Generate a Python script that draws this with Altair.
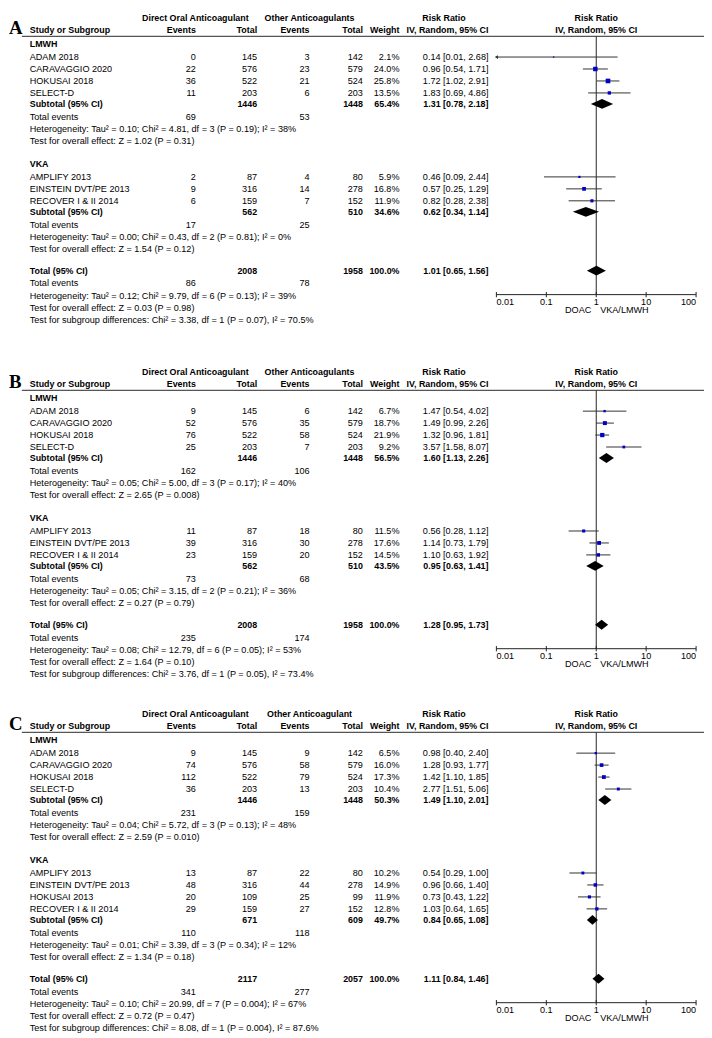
import altair as alt
import pandas as pd

# ---------------- Panel A ----------------
A_group = ["LMWH", "LMWH", "LMWH", "LMWH", "VKA", "VKA", "VKA"]
A_study = ["ADAM 2018", "CARAVAGGIO 2020", "HOKUSAI 2018", "SELECT-D",
           "AMPLIFY 2013", "EINSTEIN DVT/PE 2013", "RECOVER I & II 2014"]
A_doac_events = [0, 22, 36, 11, 2, 9, 6]
A_doac_total = [145, 576, 522, 203, 87, 316, 159]
A_other_events = [3, 23, 21, 6, 4, 14, 7]
A_other_total = [142, 579, 524, 203, 80, 278, 152]
A_weight = [2.1, 24.0, 25.8, 13.5, 5.9, 16.8, 11.9]
A_rr = [0.14, 0.96, 1.72, 1.83, 0.46, 0.57, 0.82]
A_lo = [0.01, 0.54, 1.02, 0.69, 0.09, 0.25, 0.28]
A_hi = [2.68, 1.71, 2.91, 4.86, 2.44, 1.29, 2.38]
A_sub_doac_events = [69, 17, 86]
A_sub_doac_total = [1446, 562, 2008]
A_sub_other_events = [53, 25, 78]
A_sub_other_total = [1448, 510, 1958]
A_sub_weight = [65.4, 34.6, 100.0]
A_sub_rr = [1.31, 0.62, 1.01]
A_sub_lo = [0.78, 0.34, 0.65]
A_sub_hi = [2.18, 1.14, 1.56]
A_sub_het = ["Tau² = 0.10; Chi² = 4.81, df = 3 (P = 0.19); I² = 38%",
             "Tau² = 0.00; Chi² = 0.43, df = 2 (P = 0.81); I² = 0%",
             "Tau² = 0.12; Chi² = 9.79, df = 6 (P = 0.13); I² = 39%"]
A_sub_z = ["Z = 1.02 (P = 0.31)", "Z = 1.54 (P = 0.12)", "Z = 0.03 (P = 0.98)"]
A_subgroup_diff = "Chi² = 3.38, df = 1 (P = 0.07), I² = 70.5%"
A_other_label = "Other Anticoagulants"

# ---------------- Panel B ----------------
B_group = ["LMWH", "LMWH", "LMWH", "LMWH", "VKA", "VKA", "VKA"]
B_study = ["ADAM 2018", "CARAVAGGIO 2020", "HOKUSAI 2018", "SELECT-D",
           "AMPLIFY 2013", "EINSTEIN DVT/PE 2013", "RECOVER I & II 2014"]
B_doac_events = [9, 52, 76, 25, 11, 39, 23]
B_doac_total = [145, 576, 522, 203, 87, 316, 159]
B_other_events = [6, 35, 58, 7, 18, 30, 20]
B_other_total = [142, 579, 524, 203, 80, 278, 152]
B_weight = [6.7, 18.7, 21.9, 9.2, 11.5, 17.6, 14.5]
B_rr = [1.47, 1.49, 1.32, 3.57, 0.56, 1.14, 1.10]
B_lo = [0.54, 0.99, 0.96, 1.58, 0.28, 0.73, 0.63]
B_hi = [4.02, 2.26, 1.81, 8.07, 1.12, 1.79, 1.92]
B_sub_doac_events = [162, 73, 235]
B_sub_doac_total = [1446, 562, 2008]
B_sub_other_events = [106, 68, 174]
B_sub_other_total = [1448, 510, 1958]
B_sub_weight = [56.5, 43.5, 100.0]
B_sub_rr = [1.60, 0.95, 1.28]
B_sub_lo = [1.13, 0.63, 0.95]
B_sub_hi = [2.26, 1.41, 1.73]
B_sub_het = ["Tau² = 0.05; Chi² = 5.00, df = 3 (P = 0.17); I² = 40%",
             "Tau² = 0.05; Chi² = 3.15, df = 2 (P = 0.21); I² = 36%",
             "Tau² = 0.08; Chi² = 12.79, df = 6 (P = 0.05); I² = 53%"]
B_sub_z = ["Z = 2.65 (P = 0.008)", "Z = 0.27 (P = 0.79)", "Z = 1.64 (P = 0.10)"]
B_subgroup_diff = "Chi² = 3.76, df = 1 (P = 0.05), I² = 73.4%"
B_other_label = "Other Anticoagulants"

# ---------------- Panel C ----------------
C_group = ["LMWH", "LMWH", "LMWH", "LMWH", "VKA", "VKA", "VKA", "VKA"]
C_study = ["ADAM 2018", "CARAVAGGIO 2020", "HOKUSAI 2018", "SELECT-D",
           "AMPLIFY 2013", "EINSTEIN DVT/PE 2013", "HOKUSAI 2013", "RECOVER I & II 2014"]
C_doac_events = [9, 74, 112, 36, 13, 48, 20, 29]
C_doac_total = [145, 576, 522, 203, 87, 316, 109, 159]
C_other_events = [9, 58, 79, 13, 22, 44, 25, 27]
C_other_total = [142, 579, 524, 203, 80, 278, 99, 152]
C_weight = [6.5, 16.0, 17.3, 10.4, 10.2, 14.9, 11.9, 12.8]
C_rr = [0.98, 1.28, 1.42, 2.77, 0.54, 0.96, 0.73, 1.03]
C_lo = [0.40, 0.93, 1.10, 1.51, 0.29, 0.66, 0.43, 0.64]
C_hi = [2.40, 1.77, 1.85, 5.06, 1.00, 1.40, 1.22, 1.65]
C_sub_doac_events = [231, 110, 341]
C_sub_doac_total = [1446, 671, 2117]
C_sub_other_events = [159, 118, 277]
C_sub_other_total = [1448, 609, 2057]
C_sub_weight = [50.3, 49.7, 100.0]
C_sub_rr = [1.49, 0.84, 1.11]
C_sub_lo = [1.10, 0.65, 0.84]
C_sub_hi = [2.01, 1.08, 1.46]
C_sub_het = ["Tau² = 0.04; Chi² = 5.72, df = 3 (P = 0.13); I² = 48%",
             "Tau² = 0.01; Chi² = 3.39, df = 3 (P = 0.34); I² = 12%",
             "Tau² = 0.10; Chi² = 20.99, df = 7 (P = 0.004); I² = 67%"]
C_sub_z = ["Z = 2.59 (P = 0.010)", "Z = 1.34 (P = 0.18)", "Z = 0.72 (P = 0.47)"]
C_subgroup_diff = "Chi² = 8.08, df = 1 (P = 0.004), I² = 87.6%"
C_other_label = "Other Anticoagulant"

# axis ticks
tick_values = [0.01, 0.1, 1, 10, 100]
tick_labels = ["0.01", "0.1", "1", "10", "100"]
favours_left = "DOAC"
favours_right = "VKA/LMWH"

# ---------------- layout ----------------
U = 12.1          # px per row
H = 1030          # chart height
W = 704
FONT = "Liberation Sans"
FS = 9.2
FSB = 9

COLS = {
    "label": (22, "left"),
    "de": (190, "right"),
    "dt": (252, "right"),
    "oe": (305, "right"),
    "ot": (359, "right"),
    "w": (396, "right"),
    "rr": (486, "right"),
    "h_doac": (189.5, "center"),
    "h_other": (305, "center"),
    "h_rr": (441, "center"),
    "h_forest": (595, "center"),
}

text_rows, ci_rows, sq_rows, arrow_rows = [], [], [], []
dia_rows, vline_rows, axis_rows, tick_rows = [], [], [], []
hrule_rows, letter_rows, fav_rows = [], [], []


def add_text(y, col, text, bold=False):
    text_rows.append(dict(y=y, col=col, text=str(text), bold=bold))


def fmt_rr(r, l, h):
    return f"{r:.2f} [{l:.2f}, {h:.2f}]"


def build(letter, top, other_label, group, study, de, dt, oe, ot, w, rr, lo, hi,
          s_de, s_dt, s_oe, s_ot, s_w, s_rr, s_lo, s_hi, s_het, s_z, diff):
    letter_rows.append(dict(y=top + 0.8, text=letter))
    add_text(top, "h_doac", "Direct Oral Anticoagulant", True)
    add_text(top, "h_other", other_label, True)
    add_text(top, "h_rr", "Risk Ratio", True)
    add_text(top, "h_forest", "Risk Ratio", True)
    for col, t in [("label", "Study or Subgroup"), ("de", "Events"), ("dt", "Total"),
                   ("oe", "Events"), ("ot", "Total"), ("w", "Weight"),
                   ("rr", "IV, Random, 95% CI"), ("h_forest", "IV, Random, 95% CI")]:
        add_text(top + 1, col, t, True)
    hrule_rows.append(dict(y=top + 1.5))

    def summary(cur, k, label):
        add_text(cur, "label", label, True)
        add_text(cur, "dt", s_dt[k], True)
        add_text(cur, "ot", s_ot[k], True)
        add_text(cur, "w", f"{s_w[k]:.1f}%", True)
        add_text(cur, "rr", fmt_rr(s_rr[k], s_lo[k], s_hi[k]), True)
        for x, a, b in [(s_lo[k], 0, 0), (s_rr[k], -0.41, 0.41), (s_hi[k], 0, 0)]:
            dia_rows.append(dict(id=f"{letter}{k}", x=x, y1=cur + a, y2=cur + b))
        diam_y = cur
        cur += 1.07
        add_text(cur, "label", "Total events")
        add_text(cur, "de", s_de[k])
        add_text(cur, "oe", s_oe[k])
        cur += 1.05
        add_text(cur, "label", "Heterogeneity: " + s_het[k])
        cur += 1.0
        add_text(cur, "label", "Test for overall effect: " + s_z[k])
        return cur, diam_y

    cur = top + 2.15
    groups = list(dict.fromkeys(group))
    for gi, g in enumerate(groups):
        if gi:
            cur += 1.9
        add_text(cur, "label", g, True)
        idx = [i for i, x in enumerate(group) if x == g]
        cur += 1.08
        for k, i in enumerate(idx):
            if k:
                cur += 1.0
            add_text(cur, "label", study[i])
            add_text(cur, "de", de[i])
            add_text(cur, "dt", dt[i])
            add_text(cur, "oe", oe[i])
            add_text(cur, "ot", ot[i])
            add_text(cur, "w", f"{w[i]:.1f}%")
            add_text(cur, "rr", fmt_rr(rr[i], lo[i], hi[i]))
            ci_rows.append(dict(y=cur, lo=max(lo[i], tick_values[0]), hi=min(hi[i], tick_values[-1])))
            sq_rows.append(dict(y=cur, rr=rr[i], w=w[i]))
            if lo[i] <= tick_values[0]:
                arrow_rows.append(dict(y=cur, x=tick_values[0]))
        cur += 0.92
        cur, _ = summary(cur, gi, "Subtotal (95% CI)")
    cur += 1.8
    cur, total_y = summary(cur, len(groups), "Total (95% CI)")
    cur += 1.0
    add_text(cur, "label", "Test for subgroup differences: " + diff)

    ax = total_y + 2.0
    vline_rows.append(dict(x=1, y=top + 1.5, y2=ax))
    axis_rows.append(dict(a=tick_values[0], b=tick_values[-1], y=ax))
    for j, (tv, tl) in enumerate(zip(tick_values, tick_labels)):
        pos = "first" if j == 0 else ("last" if j == len(tick_values) - 1 else "mid")
        tick_rows.append(dict(x=tv, y=ax, ya=ax - 0.22, yb=ax + 0.22, yl=ax + 0.58, label=tl, pos=pos))
    fav_rows.append(dict(x=1, y=ax + 1.32, left=favours_left, right=favours_right))


build("A", 0.38, A_other_label, A_group, A_study, A_doac_events, A_doac_total,
      A_other_events, A_other_total, A_weight, A_rr, A_lo, A_hi,
      A_sub_doac_events, A_sub_doac_total, A_sub_other_events, A_sub_other_total,
      A_sub_weight, A_sub_rr, A_sub_lo, A_sub_hi, A_sub_het, A_sub_z, A_subgroup_diff)
build("B", 29.98, B_other_label, B_group, B_study, B_doac_events, B_doac_total,
      B_other_events, B_other_total, B_weight, B_rr, B_lo, B_hi,
      B_sub_doac_events, B_sub_doac_total, B_sub_other_events, B_sub_other_total,
      B_sub_weight, B_sub_rr, B_sub_lo, B_sub_hi, B_sub_het, B_sub_z, B_subgroup_diff)
build("C", 58.57, C_other_label, C_group, C_study, C_doac_events, C_doac_total,
      C_other_events, C_other_total, C_weight, C_rr, C_lo, C_hi,
      C_sub_doac_events, C_sub_doac_total, C_sub_other_events, C_sub_other_total,
      C_sub_weight, C_sub_rr, C_sub_lo, C_sub_hi, C_sub_het, C_sub_z, C_subgroup_diff)

yscale = alt.Scale(domain=[0, H / U], reverse=True)
xscale = alt.Scale(type="log", domain=[tick_values[0], tick_values[-1]], range=[494, 696])


def Y(f):
    return alt.Y(f"{f}:Q", scale=yscale, axis=None)


def X(f):
    return alt.X(f"{f}:Q", scale=xscale, axis=None)


layers = []

# header rules
layers.append(alt.Chart(pd.DataFrame(hrule_rows)).mark_rule(color="#555555", strokeWidth=1.2).encode(
    x=alt.value(14), x2=alt.value(W), y=Y("y")))

# vertical no-effect line
layers.append(alt.Chart(pd.DataFrame(vline_rows)).mark_rule(color="#222222", strokeWidth=1).encode(
    x=X("x"), y=Y("y"), y2="y2:Q"))

# axis line + ticks
layers.append(alt.Chart(pd.DataFrame(axis_rows)).mark_rule(color="#222222", strokeWidth=1).encode(
    x=X("a"), x2="b:Q", y=Y("y")))
tick_df = pd.DataFrame(tick_rows)
layers.append(alt.Chart(tick_df).mark_rule(color="#222222", strokeWidth=1).encode(
    x=X("x"), y=Y("ya"), y2="yb:Q"))
for pos, al in [("first", "left"), ("mid", "center"), ("last", "right")]:
    layers.append(alt.Chart(tick_df[tick_df.pos == pos]).mark_text(
        align=al, baseline="middle", font=FONT, fontSize=FS, color="black").encode(
        x=X("x"), y=Y("yl"), text="label:N"))
fav_df = pd.DataFrame(fav_rows)
layers.append(alt.Chart(fav_df).mark_text(align="right", dx=-5, baseline="middle", font=FONT,
                                          fontSize=FS, color="black").encode(
    x=X("x"), y=Y("y"), text="left:N"))
layers.append(alt.Chart(fav_df).mark_text(align="left", dx=4, baseline="middle", font=FONT,
                                          fontSize=FS, color="black").encode(
    x=X("x"), y=Y("y"), text="right:N"))

# CI lines
layers.append(alt.Chart(pd.DataFrame(ci_rows)).mark_rule(color="#333333", strokeWidth=1).encode(
    x=X("lo"), x2="hi:Q", y=Y("y")))
if arrow_rows:
    layers.append(alt.Chart(pd.DataFrame(arrow_rows)).mark_point(
        shape="triangle-left", filled=True, color="#333333", size=14, opacity=1, dx=2).encode(
        x=X("x"), y=Y("y")))

# squares
layers.append(alt.Chart(pd.DataFrame(sq_rows)).mark_square(color="#0000cc", opacity=1).encode(
    x=X("rr"), y=Y("y"),
    size=alt.Size("w:Q", scale=alt.Scale(domain=[0, 100], range=[0, 85]), legend=None)))

# diamonds
layers.append(alt.Chart(pd.DataFrame(dia_rows)).mark_area(color="black", orient="vertical",
                                                           opacity=1).encode(
    x=X("x"), y=Y("y1"), y2="y2:Q", detail="id:N"))

# text columns
tdf = pd.DataFrame(text_rows)
for (col, bold), sub in tdf.groupby(["col", "bold"]):
    px, al = COLS[col]
    layers.append(alt.Chart(sub).mark_text(
        align=al, baseline="middle", font=FONT, fontSize=FSB if bold else FS,
        fontWeight="bold" if bold else "normal", color="black").encode(
        x=alt.value(px), y=Y("y"), text="text:N"))

# panel letters
layers.append(alt.Chart(pd.DataFrame(letter_rows)).mark_text(
    align="left", baseline="middle", font="Liberation Serif", fontSize=19,
    fontWeight="bold", color="black").encode(x=alt.value(1), y=Y("y"), text="text:N"))

chart = alt.layer(*layers).properties(
    width=W, height=H, autosize=alt.AutoSizeParams(type="none"), padding=0
).configure_view(strokeWidth=0)

chart.save("out.html", embed_options={"renderer": "svg", "actions": False})
